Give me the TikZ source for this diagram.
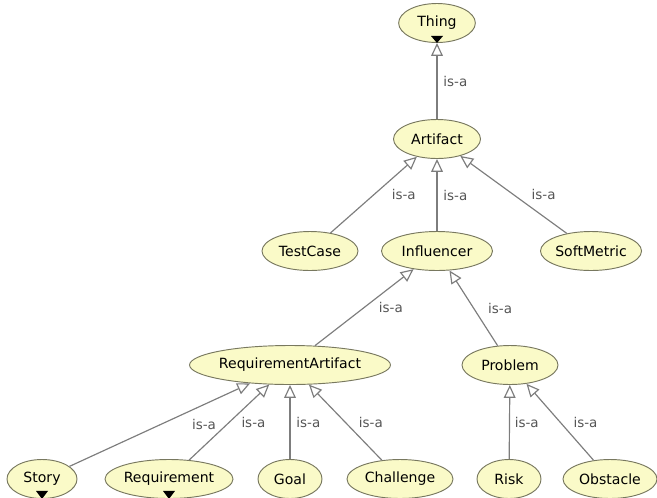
\documentclass[tikz,border=0pt]{standalone}
\usepackage{fontspec}
\setmainfont{DejaVu Sans}
\usepackage{tikz}
\usetikzlibrary{arrows.meta,shapes.geometric}
\definecolor{clsfill}{RGB}{250,250,200}
\definecolor{clsdraw}{RGB}{120,120,95}
\definecolor{edgegray}{RGB}{125,125,125}
\definecolor{lblgray}{RGB}{85,85,85}
\tikzstyle{cls}=[ellipse, draw=clsdraw, fill=clsfill, line width=0.8pt, inner sep=0pt, minimum height=1.17cm, font=\fontsize{12}{14}\selectfont]
\tikzstyle{isa}=[draw=edgegray, line width=1pt, -{Triangle[open, length=11pt, width=10pt, fill=white]}]
\tikzstyle{lbl}=[midway, anchor=west, text=lblgray, inner sep=0pt, font=\fontsize{11.5}{13}\selectfont]
\tikzstyle{more}=[fill=black]

\begin{document}
\begin{tikzpicture}[x=0.03cm, y=-0.03cm]
		   \useasboundingbox (0, 0) rectangle (657, 497);
		   \begin{scope}
			   \node (Thing) at (437, 23)[cls, minimum width=2.3cm] {Thing};
			   \node (Artifact) at (437, 139)[cls, minimum width=2.61cm] {Artifact};

			   \node (TestCase) at (310, 251)[cls, minimum width=2.88cm] {TestCase};
			   \node (Influencer) at (437, 251)[cls, minimum width=3.33cm] {Influencer};
			   \node (SoftMetric) at (591, 251)[cls, minimum width=2.76cm] {SoftMetric};

			   \node (ReqArtifact) at (290, 365)[cls, minimum width=5.4cm] {RequirementArtifact};
			   \node (Problem) at (510, 365)[cls, minimum width=2.88cm] {Problem};

			   \node (Story) at (42, 479)[cls, minimum width=2.1cm] {Story};
			   \node (Requirement) at (169, 479)[cls, minimum width=3.84cm] {Requirement};
			   \node (Goal) at (290, 479)[cls, minimum width=1.92cm] {Goal};
			   \node (Challenge) at (400, 479)[cls, minimum width=3.18cm] {Challenge};
			   \node (Risk) at (509, 479)[cls, minimum width=1.92cm] {Risk};
			   \node (Obstacle) at (610, 479)[cls, minimum width=2.82cm] {Obstacle};
		   \end{scope}
		   \begin{scope}
			   \path [isa] (Artifact) edge node[lbl, xshift=5] {is-a} (Thing);

			   \path [isa] (TestCase) edge node[lbl, xshift=15] {is-a} (Artifact);
			   \path [isa] (Influencer) edge node[lbl, xshift=5] {is-a} (Artifact);
			   \path [isa] (SoftMetric) edge node[lbl, xshift=15] {is-a} (Artifact);

			   \path [isa] (ReqArtifact) edge node[lbl, xshift=12] {is-a} (Influencer);
			   \path [isa] (Problem) edge node[lbl, xshift=12] {is-a} (Influencer);

			   \path [isa] (Story) edge node[lbl, xshift=27] {is-a} (ReqArtifact);
			   \path [isa] (Requirement) edge node[lbl, xshift=10] {is-a} (ReqArtifact);
			   \path [isa] (Goal) edge node[lbl, xshift=5] {is-a} (ReqArtifact);
			   \path [isa] (Challenge) edge node[lbl, xshift=11] {is-a} (ReqArtifact);

			   \path [isa] (Risk) edge node[lbl, xshift=4] {is-a} (Problem);
			   \path [isa] (Obstacle) edge node[lbl, xshift=11] {is-a} (Problem);
		   \end{scope}
		   % collapsed subclasses
		   \fill [more] (Thing.south) -- ++(-6, -7) -- ++(12, 0) -- cycle;
		   \fill [more] (Story.south) -- ++(-6, -8) -- ++(12, 0) -- cycle;
		   \fill [more] (Requirement.south) -- ++(-6, -8) -- ++(12, 0) -- cycle;
	   \end{tikzpicture}
\end{document}
